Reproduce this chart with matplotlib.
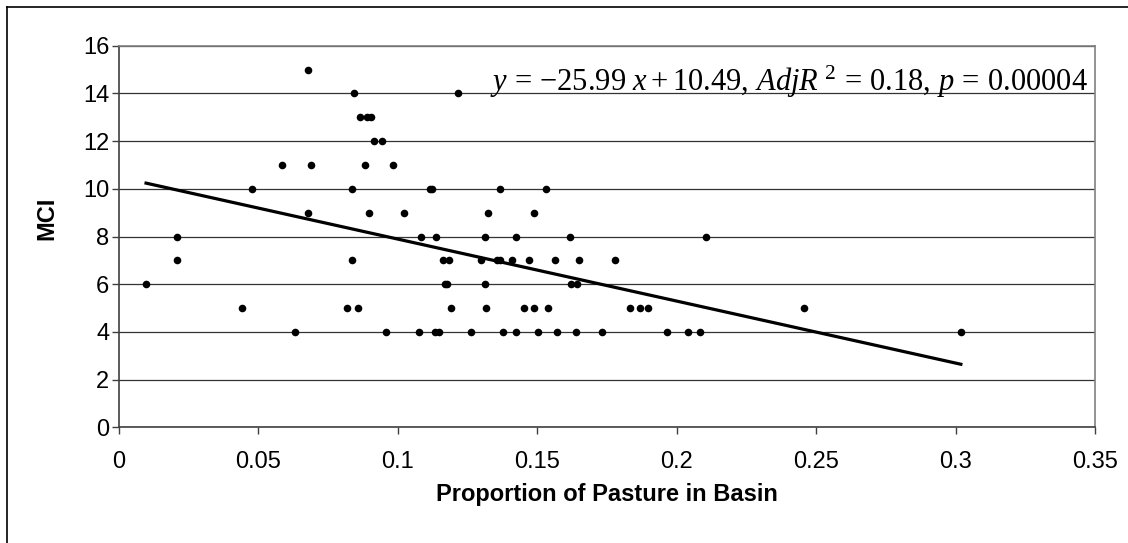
import numpy as np
import matplotlib.pyplot as plt
from matplotlib.lines import Line2D

# Datos: proporcion de pastizal vs MCI
pasture = [0.0097, 0.0209, 0.0209, 0.0442, 0.0476, 0.0583, 0.0630, 0.0676, 0.0676, 0.0690,
           0.0816, 0.0837, 0.0837, 0.0843, 0.0857, 0.0863, 0.0883, 0.0890, 0.0898, 0.0905,
           0.0915, 0.0944, 0.0956, 0.0984, 0.1023, 0.1077, 0.1083, 0.1115, 0.1124, 0.1134,
           0.1137, 0.1149, 0.1163, 0.1169, 0.1177, 0.1183, 0.1189, 0.1217, 0.1264, 0.1297,
           0.1311, 0.1311, 0.1317, 0.1323, 0.1357, 0.1365, 0.1367, 0.1378, 0.1411, 0.1423,
           0.1423, 0.1451, 0.1471, 0.1490, 0.1490, 0.1504, 0.1531, 0.1538, 0.1564, 0.1571,
           0.1617, 0.1622, 0.1639, 0.1643, 0.1650, 0.1732, 0.1777, 0.1831, 0.1870, 0.1897,
           0.1965, 0.2040, 0.2085, 0.2105, 0.2457, 0.3019]
mci = [6, 8, 7, 5, 10, 11, 4, 15, 9, 11,
       5, 10, 7, 14, 5, 13, 11, 13, 9, 13,
       12, 12, 4, 11, 9, 4, 8, 10, 10, 4,
       8, 4, 7, 6, 6, 7, 5, 14, 4, 7,
       8, 6, 5, 9, 7, 10, 7, 4, 7, 8,
       4, 5, 7, 5, 9, 4, 10, 5, 7, 4,
       8, 6, 4, 6, 7, 4, 7, 5, 5, 5,
       4, 4, 4, 8, 5, 4]

# Recta de regresion publicada
slope = -25.99
intercept = 10.49

x_ticks = [0, 0.05, 0.1, 0.15, 0.2, 0.25, 0.3, 0.35]
x_tick_labels = ['0', '0.05', '0.1', '0.15', '0.2', '0.25', '0.3', '0.35']
y_ticks = [0, 2, 4, 6, 8, 10, 12, 14, 16]

plt.rcParams['font.family'] = ['Liberation Sans', 'DejaVu Sans']
plt.rcParams['mathtext.fontset'] = 'custom'
plt.rcParams['mathtext.rm'] = 'Liberation Serif'
plt.rcParams['mathtext.it'] = 'Liberation Serif:italic'

fig = plt.figure(figsize=(11.28, 5.43), dpi=100)
ax = fig.add_axes([119 / 1128, 1 - 427.3 / 543, 976 / 1128, 381.6 / 543])

ax.scatter(pasture, mci, s=30, color='black', zorder=3, linewidths=0)

xs = np.array([min(pasture), max(pasture)])
ax.plot(xs, slope * xs + intercept, color='black', lw=2.3, zorder=2)

ax.set_xlim(0, 0.35)
ax.set_ylim(0, 16)
ax.set_xticks(x_ticks)
ax.set_xticklabels(x_tick_labels)
ax.set_yticks(y_ticks)
ax.tick_params(axis='both', labelsize=17, length=5, width=1, color='#404040')
ax.tick_params(axis='x', pad=12)
ax.tick_params(axis='y', pad=2)

ax.grid(True, axis='y', color='#333333', lw=0.9)
ax.set_axisbelow(True)
for side in ['top', 'right']:
    ax.spines[side].set_color('#808080')
for side in ['left', 'bottom']:
    ax.spines[side].set_color('#404040')
for sp in ax.spines.values():
    sp.set_linewidth(1.2)

ax.set_xlabel('Proportion of Pasture in Basin', fontsize=17, fontweight='bold')
ax.xaxis.set_label_coords(0.5, -0.145)
ax.set_ylabel('MCI', fontsize=17, fontweight='bold')
ax.yaxis.set_label_coords(-0.062, 0.548)

ax.text(0.993, 0.881,
        r'$y\,=\,{-}25.99\ x+10.49,\,AdjR^{\ 2}\,=\,0.18,\,p\,=\,0.00004$',
        transform=ax.transAxes, ha='right', va='baseline', fontsize=22)

# Marco exterior del grafico (cortado a la derecha y abajo)
fig.add_artist(Line2D([7 / 1128, 1.0], [1 - 7 / 543, 1 - 7 / 543], color='black', lw=1.2))
fig.add_artist(Line2D([7 / 1128, 7 / 1128], [0.0, 1 - 7 / 543], color='black', lw=1.2))

plt.savefig('out.png', dpi=100)
